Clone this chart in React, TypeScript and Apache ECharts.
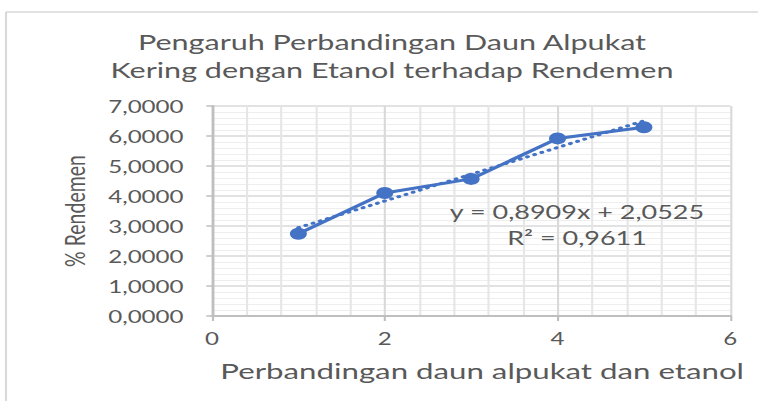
import { useEffect, useRef } from 'react';
import * as echarts from 'echarts';

// ---- data ----
const xValues = [1, 2, 3, 4, 5];
const rendemen = [2.74, 4.1, 4.57, 5.92, 6.29];
const trendSlope = 0.8909;
const trendIntercept = 2.0525;
const rSquared = 0.9611;
const titleLines = ['Pengaruh Perbandingan Daun Alpukat', 'Kering dengan Etanol terhadap Rendemen'];
const xAxisTitle = 'Perbandingan daun alpukat dan etanol';
const yAxisTitle = '% Rendemen';

// ---- layout ----
const SX = 1.42; // the reference is stretched horizontally
const W = 758;
const H = 401;
const BW = W / SX;
const FONT = 'Lato, "Open Sans", sans-serif';
const TXT = '#595959';

const comma = (v: number, d: number) => v.toFixed(d).replace('.', ',');

export default function App() {
  const ref = useRef<HTMLDivElement>(null);
  useEffect(() => {
    const chart = echarts.init(ref.current!, null, { renderer: 'svg' });
    const trendData = [xValues[0], xValues[xValues.length - 1]].map((x) => [x, trendIntercept + trendSlope * x]);
    chart.setOption({
      animation: false,
      backgroundColor: '#ffffff',
      textStyle: { fontFamily: FONT },
      title: {
        text: titleLines.join('\n'),
        left: 392 / SX,
        top: 28,
        padding: 0,
        textAlign: 'center',
        textStyle: { fontSize: 21.5, fontWeight: 'normal', color: TXT, lineHeight: 28, fontFamily: FONT },
      },
      grid: { left: 212 / SX, right: BW - 730 / SX, top: 106, bottom: H - 316, containLabel: false },
      xAxis: {
        type: 'value',
        min: 0,
        max: 6,
        interval: 2,
        name: xAxisTitle,
        nameLocation: 'middle',
        nameGap: 43,
        nameTextStyle: { color: TXT, fontSize: 22, fontFamily: FONT, padding: [0, 0, 0, 22 / SX] },
        axisLine: { show: true, onZero: false, lineStyle: { color: '#bfbfbf', width: 2 } },
        axisTick: { show: true, length: 5, lineStyle: { color: '#bfbfbf', width: 1.5 } },
        axisLabel: { color: TXT, fontSize: 17, margin: 14, fontFamily: FONT },
        splitLine: { show: true, lineStyle: { color: '#d9d9d9', width: 1.5 } },
        minorTick: { show: false, splitNumber: 5 },
        minorSplitLine: { show: true, lineStyle: { color: '#e6e6e6', width: 1.5 } },
      },
      yAxis: {
        type: 'value',
        min: 0,
        max: 7,
        interval: 1,
        name: yAxisTitle,
        nameLocation: 'middle',
        nameGap: 87,
        nameTextStyle: { color: TXT, fontSize: 19.5, fontFamily: FONT },
        axisLine: { show: true, lineStyle: { color: '#bfbfbf', width: 2 } },
        axisTick: { show: true, length: 4, lineStyle: { color: '#bfbfbf', width: 1.5 } },
        axisLabel: { color: TXT, fontSize: 17, margin: 20, fontFamily: FONT, formatter: (v: number) => comma(v, 4) },
        splitLine: { show: true, lineStyle: { color: '#d9d9d9', width: 1.5 } },
        minorTick: { show: false, splitNumber: 5 },
        minorSplitLine: { show: true, lineStyle: { color: '#eeeeee', width: 1 } },
      },
      series: [
        {
          type: 'line',
          data: xValues.map((x, i) => [x, rendemen[i]]),
          symbol: 'circle',
          symbolSize: 12,
          itemStyle: { color: '#4472c4' },
          lineStyle: { color: '#4472c4', width: 3 },
          z: 3,
        },
        {
          type: 'line',
          data: trendData,
          symbol: 'none',
          lineStyle: { color: '#4472c4', width: 3, type: [0.5, 5], cap: 'round' },
          z: 4,
        },
      ],
      graphic: [
        {
          type: 'line',
          shape: { x1: 6 / SX, y1: 12, x2: BW, y2: 12 },
          style: { stroke: '#d9d9d9', lineWidth: 1.5 },
        },
        {
          type: 'line',
          shape: { x1: 6 / SX, y1: 12, x2: 6 / SX, y2: H },
          style: { stroke: '#d9d9d9', lineWidth: 1.5 },
        },
        {
          type: 'text',
          x: 577 / SX,
          y: 199,
          style: {
            text: `y = ${comma(trendSlope, 4)}x + ${comma(trendIntercept, 4)}\nR² = ${comma(rSquared, 4)}`,
            fill: TXT,
            fontSize: 19,
            fontFamily: FONT,
            align: 'center',
            verticalAlign: 'top',
            lineHeight: 26,
          },
          z: 10,
        },
      ],
    });
    return () => chart.dispose();
  }, []);
  return (
    <div style={{ position: 'fixed', left: 0, top: 0, width: W, height: H, overflow: 'hidden', background: '#fff' }}>
      <div
        ref={ref}
        style={{ width: BW, height: H, transform: `scaleX(${SX})`, transformOrigin: '0 0' }}
      />
    </div>
  );
}
